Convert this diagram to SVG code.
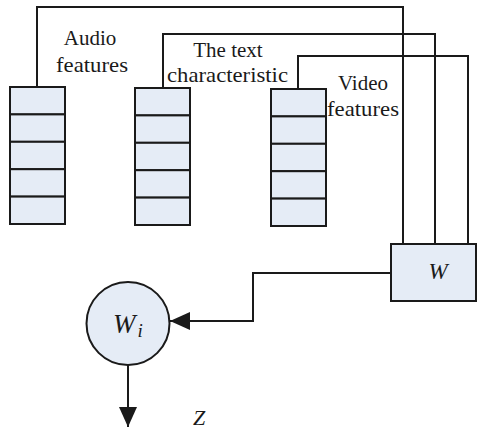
<svg xmlns="http://www.w3.org/2000/svg" width="478" height="431" viewBox="0 0 478 431">
  <style>
    .cell { fill: #e5ecf6; stroke: #1a1a1a; stroke-width: 2; }
    .wire { fill: none; stroke: #1a1a1a; stroke-width: 2; }
    .lbl { font-family: "Liberation Serif", "Times New Roman", serif; font-size: 21px; fill: #1a1a1a; }
    .math { font-family: "Liberation Serif", "Times New Roman", serif; font-style: italic; fill: #1a1a1a; }
  </style>
  <defs>
    <marker id="arrow" viewBox="0 0 20 20" refX="20" refY="10" markerWidth="20" markerHeight="20" markerUnits="userSpaceOnUse" orient="auto">
      <path d="M0,1 L20,10 L0,19 Z" fill="#1a1a1a"/>
    </marker>
    <g id="stack">
      <rect class="cell" x="0" y="0" width="55" height="27.4"/>
      <rect class="cell" x="0" y="27.4" width="55" height="27.4"/>
      <rect class="cell" x="0" y="54.8" width="55" height="27.4"/>
      <rect class="cell" x="0" y="82.2" width="55" height="27.4"/>
      <rect class="cell" x="0" y="109.6" width="55" height="27.4"/>
    </g>
  </defs>
  <rect width="478" height="431" fill="#ffffff"/>

  <!-- connectors -->
  <g id="connectors">
    <polyline class="wire" points="37,87 37,7 403,7 403,244"/>
    <polyline class="wire" points="163,88 163,34 435,34 435,244"/>
    <polyline class="wire" points="298,89 298,56 468,56 468,244"/>
    <polyline class="wire" points="391,273 253,273 253,321 170,321" marker-end="url(#arrow)"/>
    <line class="wire" x1="128" y1="365" x2="128" y2="427" marker-end="url(#arrow)"/>
  </g>

  <!-- feature stacks -->
  <g id="audio">
    <use href="#stack" x="10" y="87"/>
    <text class="lbl" x="90" y="45" text-anchor="middle">Audio</text>
    <text class="lbl" x="56" y="72" textLength="72" lengthAdjust="spacingAndGlyphs">features</text>
  </g>
  <g id="text">
    <use href="#stack" x="135" y="88"/>
    <text class="lbl" x="228" y="57" text-anchor="middle">The text</text>
    <text class="lbl" x="167" y="82" textLength="121" lengthAdjust="spacingAndGlyphs">characteristic</text>
  </g>
  <g id="video">
    <use href="#stack" x="271" y="89"/>
    <text class="lbl" x="363" y="90" text-anchor="middle">Video</text>
    <text class="lbl" x="327" y="116" textLength="72" lengthAdjust="spacingAndGlyphs">features</text>
  </g>

  <!-- weight block -->
  <g id="w">
    <rect class="cell" x="391" y="244" width="85" height="57"/>
    <text class="math" x="438" y="279" font-size="23" text-anchor="middle">W</text>
  </g>

  <!-- combined weight node -->
  <g id="wi">
    <circle class="cell" cx="128" cy="323.5" r="41.5"/>
    <text class="math" x="113" y="333" font-size="27">W<tspan font-size="19" dx="2" dy="4">i</tspan></text>
  </g>

  <g id="z">
    <text class="math" x="199" y="425" font-size="22" text-anchor="middle">Z</text>
  </g>
</svg>
